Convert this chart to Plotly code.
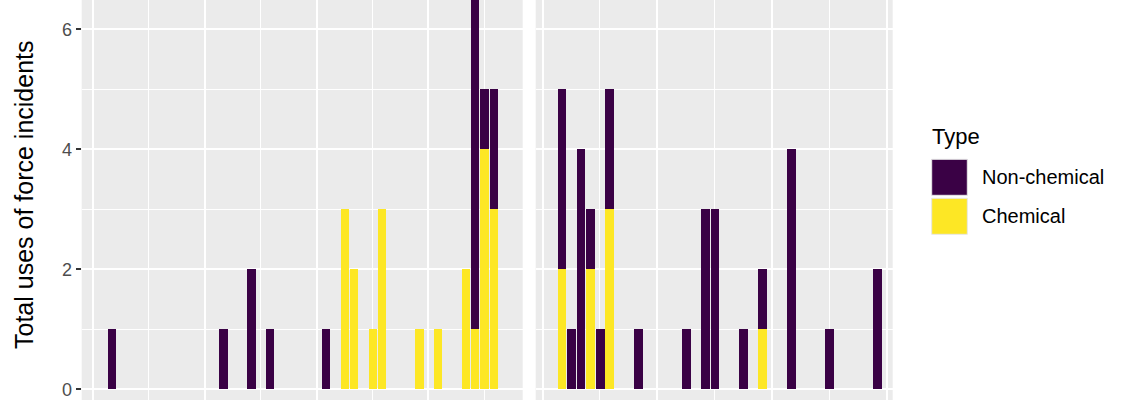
import plotly.graph_objects as go

# Counts per period, two facets (left / right panel)
left_x = [2, 14, 17, 19, 25, 27, 28, 30, 31, 35, 37, 40, 41, 42, 43]
left_chemical = [0, 0, 0, 0, 0, 3, 2, 1, 3, 1, 1, 2, 1, 4, 3]
left_nonchemical = [1, 1, 2, 1, 1, 0, 0, 0, 0, 0, 0, 0, 6, 1, 2]

right_x = [2, 3, 4, 5, 6, 7, 10, 15, 17, 18, 21, 23, 26, 30, 35]
right_chemical = [2, 0, 0, 2, 0, 3, 0, 0, 0, 0, 0, 1, 0, 0, 0]
right_nonchemical = [3, 1, 4, 1, 1, 2, 1, 1, 3, 3, 1, 1, 4, 1, 2]

type_labels = ["Non-chemical", "Chemical"]
y_title = "Total uses of force incidents"

W, H = 1140, 400
NONCHEM = "#3a0145"
CHEM = "#fde725"
PANEL = "#ebebeb"
FONT = "Liberation Sans, Arial, sans-serif"


def px_x(v):
    return v / W


def px_y(v):
    return 1 - v / H


fig = go.Figure()

# chemical first so it sits at the bottom of the stack
for xs, chem, nonchem, xa, ya in [
    (left_x, left_chemical, left_nonchemical, "x", "y"),
    (right_x, right_chemical, right_nonchemical, "x2", "y2"),
]:
    fig.add_trace(
        go.Bar(x=xs, y=chem, width=0.9, marker=dict(color=CHEM, line_width=0),
               name=type_labels[1], xaxis=xa, yaxis=ya, showlegend=False)
    )
    fig.add_trace(
        go.Bar(x=xs, y=nonchem, width=0.9, marker=dict(color=NONCHEM, line_width=0),
               name=type_labels[0], xaxis=xa, yaxis=ya, showlegend=False)
    )

xgrid = dict(
    showticklabels=False, ticks="", showline=False, zeroline=False, automargin=False,
    tick0=0, dtick=12, showgrid=True, gridcolor="white", gridwidth=2,
    minor=dict(tick0=0, dtick=6, showgrid=True, gridcolor="white", gridwidth=1),
)
ygrid = dict(
    range=[-0.178, 6.49], tick0=0, dtick=2, showline=False, zeroline=False, automargin=False,
    showgrid=True, gridcolor="white", gridwidth=2,
    minor=dict(tick0=0, dtick=1, showgrid=True, gridcolor="white", gridwidth=1),
)

fig.update_layout(
    width=W,
    height=H,
    margin=dict(l=0, r=0, t=0, b=0, pad=0),
    barmode="stack",
    bargap=0,
    paper_bgcolor="white",
    plot_bgcolor=PANEL,
    font=dict(family=FONT),
    xaxis=dict(domain=[px_x(81.7), px_x(522.7)], range=[-1.2, 46.12], anchor="y", **xgrid),
    xaxis2=dict(domain=[px_x(535.7), px_x(892.7)], range=[-0.72, 36.64], anchor="y2", **xgrid),
    yaxis=dict(
        domain=[0, 1], anchor="x", ticks="outside", ticklen=5, tickwidth=1.5,
        tickcolor="#333333", tickfont=dict(size=18, color="#4d4d4d", family=FONT),
        **ygrid,
    ),
    yaxis2=dict(domain=[0, 1], anchor="x2", matches="y", showticklabels=False, ticks="", **ygrid),
)

# y title
fig.add_annotation(
    x=px_x(8), y=px_y(195), xref="paper", yref="paper", text=y_title,
    textangle=-90, showarrow=False, font=dict(size=25, color="black", family=FONT),
)

# hand-drawn legend, ggplot style
fig.add_annotation(
    x=px_x(930), y=px_y(136), xref="paper", yref="paper", text="Type",
    xanchor="left", yanchor="middle", showarrow=False,
    font=dict(size=22, color="black", family=FONT),
)
for i, (lab, col) in enumerate(zip(type_labels, [NONCHEM, CHEM])):
    top = 159.3 + i * 39
    fig.add_shape(
        type="rect", xref="paper", yref="paper",
        x0=px_x(931.7), x1=px_x(967.3), y0=px_y(top), y1=px_y(top + 36),
        fillcolor=col, line=dict(color="#e6e6e6", width=1),
    )
    fig.add_annotation(
        x=px_x(980), y=px_y(top + 18), xref="paper", yref="paper", text=lab,
        xanchor="left", yanchor="middle", showarrow=False,
        font=dict(size=20, color="black", family=FONT),
    )

# the page body has a default 8px margin; drop it so the figure sits at the corner
fig.write_html(
    "out.html",
    config={"displayModeBar": False},
    post_script="document.body.style.margin='0';",
)
